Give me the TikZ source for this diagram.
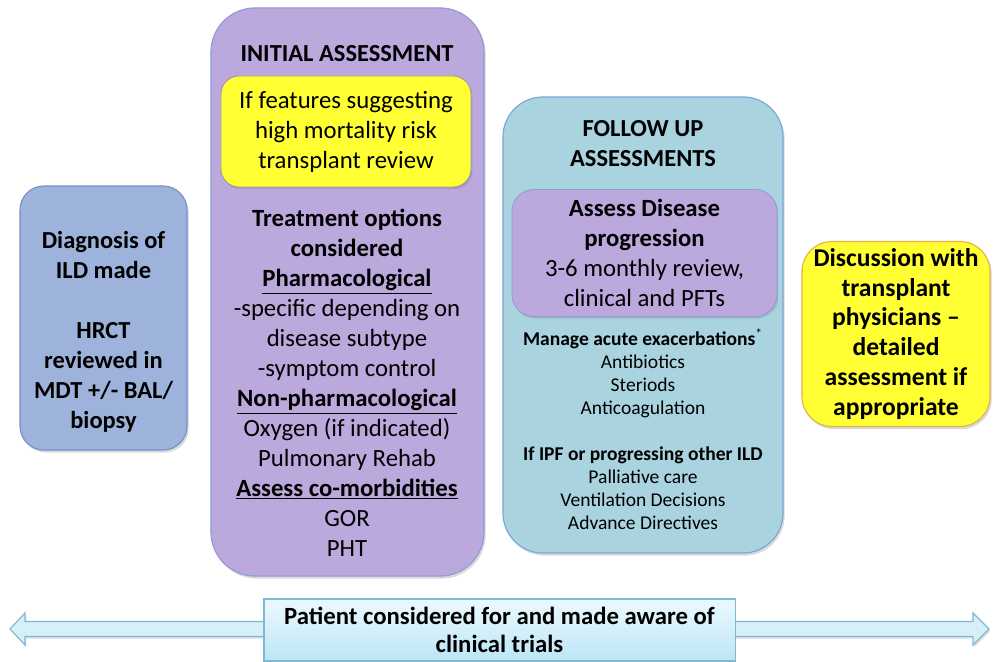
\documentclass[tikz,border=0pt]{standalone}
\usepackage{fontspec}
\setmainfont{Carlito}
\usepackage{xcolor}
\usepackage{tikz}
\usetikzlibrary{shapes,arrows,shadows,positioning}

\definecolor{diagblue}{RGB}{158,179,219}
\definecolor{diagedge}{RGB}{118,146,200}
\definecolor{initpurple}{RGB}{187,168,220}
\definecolor{initedge}{RGB}{140,156,214}
\definecolor{followblue}{RGB}{170,211,224}
\definecolor{followedge}{RGB}{124,164,212}
\definecolor{riskyellow}{RGB}{255,255,51}
\definecolor{riskedge}{RGB}{150,150,170}
\definecolor{transpedge}{RGB}{228,178,70}
\definecolor{trialtop}{RGB}{236,249,254}
\definecolor{trialbot}{RGB}{188,230,246}
\definecolor{trialedge}{RGB}{128,184,210}
\definecolor{arrowfill}{RGB}{214,240,250}

\tikzstyle{stage} = [rectangle, draw, line width=0.8pt, align=center,
    drop shadow={shadow xshift=1.2pt, shadow yshift=-1.8pt, opacity=0.3}]
\tikzstyle{inner} = [rectangle, draw, line width=0.6pt, align=center,
    drop shadow={shadow xshift=1pt, shadow yshift=-1.5pt, opacity=0.3}]
\tikzstyle{bigtext} = [align=center, font=\fontsize{17.6}{21.3}\selectfont]
\tikzstyle{headtext} = [align=center, font=\fontsize{17.4}{21.3}\selectfont\bfseries]
\tikzstyle{smalltext} = [align=center, font=\fontsize{13.9}{16.3}\selectfont]

\begin{document}
\begin{tikzpicture}[x=0.025cm, y=-0.025cm]
    \useasboundingbox (0,0) rectangle (993,662);
    % Trials arrow along the bottom
    \draw [fill=arrowfill, draw=trialedge, line width=0.8pt, line join=miter,
        drop shadow={shadow xshift=1pt, shadow yshift=-1.5pt, opacity=0.25}]
        (10,629) -- (25,613) -- (25,621.5) -- (973,621.5) -- (973,613) -- (989,629)
        -- (973,645) -- (973,636.5) -- (25,636.5) -- (25,645) -- cycle;
    % Place boxes
    \node [stage, fill=diagblue, draw=diagedge, minimum width=4.175cm, minimum height=6.6cm,
        rounded corners=0.6cm] (diag) at (103.5,318) {};
    \node [stage, fill=initpurple, draw=initedge, minimum width=6.825cm, minimum height=14.2cm,
        rounded corners=1.1cm] (init) at (347.5,292) {};
    \node [stage, fill=followblue, draw=followedge, minimum width=7cm, minimum height=11.4cm,
        rounded corners=1cm] (follow) at (643,325) {};
    \node [stage, fill=riskyellow, draw=transpedge, minimum width=4.7cm, minimum height=4.625cm,
        rounded corners=0.75cm, font=\fontsize{18.2}{21.3}\selectfont\bfseries] (transp) at (896,334)
        {Discussion with\\ transplant\\ physicians --\\ detailed\\ assessment if\\ appropriate};
    % Diagnosis
    \node [headtext] (diagtext) at (103.5,332)
        {Diagnosis of\\ ILD made\\[21.3pt] HRCT\\ reviewed in\\ MDT +/- BAL/\\ biopsy};
    % Initial assessment
    \node [headtext] (inittitle) at (347,54) {INITIAL ASSESSMENT};
    \node [inner, fill=riskyellow, draw=riskedge, minimum width=6.25cm, minimum height=2.775cm,
        rounded corners=0.45cm, font=\fontsize{17.6}{21.3}\selectfont] (risk) at (346,131.5)
        {If features suggesting\\ high mortality risk\\ transplant review};
    \node [bigtext] (treat) at (347,383)
        {\textbf{Treatment options}\\ \textbf{considered}\\ \underline{\textbf{Pharmacological}}\\
         -specific depending on\\ disease subtype\\ -symptom control\\
         \underline{\textbf{Non-pharmacological}}\\ Oxygen (if indicated)\\ Pulmonary Rehab\\
         \underline{\textbf{Assess co-morbidities}}\\ GOR\\ PHT};
    % Follow up
    \node [headtext] (followtitle) at (643,144) {FOLLOW UP\\ ASSESSMENTS};
    \node [inner, fill=initpurple, draw=initedge, minimum width=6.625cm, minimum height=3.175cm,
        rounded corners=0.55cm, font=\fontsize{17.6}{21.3}\selectfont] (prog) at (644.5,253)
        {\textbf{Assess Disease}\\ \textbf{progression}\\ 3-6 monthly review,\\ clinical and PFTs};
    \node [smalltext] (manage) at (643,429)
        {\textbf{Manage acute exacerbations}\textsuperscript{*}\\ Antibiotics\\ Steriods\\
         Anticoagulation\\[16.3pt] \textbf{If IPF or progressing other ILD}\\ Palliative care\\
         Ventilation Decisions\\ Advance Directives};
    % Trials box
    \node [rectangle, draw=trialedge, line width=0.8pt, top color=trialtop, bottom color=trialbot,
        minimum width=11.775cm, minimum height=1.55cm, align=center,
        font=\fontsize{17.6}{19.9}\selectfont\bfseries] (trials) at (499.5,630)
        {Patient considered for and made aware of\\ clinical trials};
\end{tikzpicture}
\end{document}
